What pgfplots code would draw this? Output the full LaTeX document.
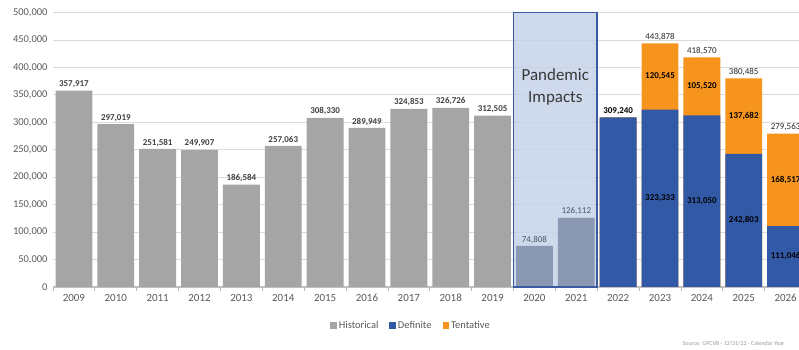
\documentclass[border=0pt]{standalone}
\usepackage{fontspec}
\setmainfont{Carlito}
\usepackage{pgfplots}
\usepackage{pgfplotstable}
\pgfplotsset{compat=1.18}

\definecolor{histgray}{HTML}{A5A5A5}
\definecolor{pandgray}{HTML}{8A99B1}
\definecolor{boxfill}{HTML}{C5D2E9}
\definecolor{boxline}{HTML}{3A5C9E}
\definecolor{defblue}{HTML}{3259A6}
\definecolor{tentorange}{HTML}{F7941D}
\definecolor{txtgray}{HTML}{595959}
\definecolor{lblgray}{HTML}{404040}
\definecolor{pandlbl}{HTML}{4A5568}

\pgfplotstableread{
x v lab
0 357917 357,917
1 297019 297,019
2 251581 251,581
3 249907 249,907
4 186584 186,584
5 257063 257,063
6 308330 308,330
7 289949 289,949
8 324853 324,853
9 326726 326,726
10 312505 312,505
}\hist

\pgfplotstableread{
x v lab
11 74808 74,808
12 126112 126,112
}\pand

\pgfplotstableread{
x def tent dlab tlab tot
13 309240 0 309,240 none 309,240
14 323333 120545 323,333 120,545 443,878
15 313050 105520 313,050 105,520 418,570
16 242803 137682 242,803 137,682 380,485
17 111046 168517 111,046 168,517 279,563
}\fc

\pgfplotsset{
  bars/.style={forget plot, ybar, bar width=0.88, bar shift=0pt, draw=none},
  lbl/.style={forget plot, sharp plot, draw=none,
    mark=*, mark size=0pt, mark options={draw=none, fill=none},
    nodes near coords={\pgfplotspointmeta}, point meta=explicit symbolic},
}

\begin{document}
\begin{tikzpicture}
\begin{axis}[
  name=ax,
  scale only axis,
  width=746bp, height=274.3bp,
  xmin=-0.5, xmax=17.32,
  ymin=0, ymax=500000,
  enlargelimits=false,
  scaled y ticks=false,
  xtick={0,...,17},
  xticklabels={2009,2010,2011,2012,2013,2014,2015,2016,2017,2018,2019,2020,2021,2022,2023,2024,2025,2026},
  minor xtick={-0.5,0.5,...,16.5},
  major tick length=0pt,
  minor tick length=4bp,
  tick align=outside,
  minor x tick style={draw=gray!55, line width=0.8pt},
  ytick={0,50000,100000,150000,200000,250000,300000,350000,400000,450000,500000},
  yticklabels={0,{50,000},{100,000},{150,000},{200,000},{250,000},{300,000},{350,000},{400,000},{450,000},{500,000}},
  yticklabel style={font=\fontsize{10.5}{12}\selectfont, text=txtgray, xshift=-2bp},
  xticklabel style={font=\fontsize{11}{12}\selectfont, text=txtgray, yshift=-4bp},
  axis x line*=bottom,
  axis y line*=left,
  x axis line style={draw=gray!50, line width=1.5pt},
  y axis line style={draw=none},
  ymajorgrids,
  grid style={draw=gray!28, line width=1pt},
  legend image code/.code={\fill[#1] (0bp,-3bp) rectangle (6.5bp,3.5bp);},
  legend style={at={(0.48,-0.142)}, anchor=center, draw=none, fill=none,
    legend columns=3, font=\fontsize{10.5}{12}\selectfont, text=txtgray,
    /tikz/every even column/.append style={column sep=9bp},
    nodes={inner sep=2bp}},
  every node near coord/.append style={font=\bfseries\fontsize{9}{10}\selectfont, text=lblgray, anchor=south, inner sep=2.5bp},
]
\addlegendimage{fill=histgray, draw=none}
\addlegendentry{Historical}
\addlegendimage{fill=defblue, draw=none}
\addlegendentry{Definite}
\addlegendimage{fill=tentorange, draw=none}
\addlegendentry{Tentative}

% pandemic box background (spans 2020-2021)
\addplot[bars, bar width=2, fill=boxfill, fill opacity=0.85]
  coordinates {(11.5,500000)};

% forecast: total (definite + tentative) in orange, definite in blue on top
\addplot[bars, fill=tentorange] table[x=x, y expr=\thisrow{def}+\thisrow{tent}]{\fc};
\addplot[bars, fill=defblue] table[x=x, y=def]{\fc};

% historical bars
\addplot[bars, fill=histgray] table[x=x, y=v]{\hist};
\addplot[bars, fill=pandgray] table[x=x, y=v]{\pand};

% labels
\addplot[lbl] table[x=x, y=v, meta=lab]{\hist};
\addplot[lbl, every node near coord/.append style={font=\fontsize{9}{10}\selectfont, text=pandlbl}]
  table[x=x, y=v, meta=lab]{\pand};
\addplot[lbl, restrict x to domain=12.5:13.5, every node near coord/.append style={text=black}]
  table[x=x, y=def, meta=dlab]{\fc};
\addplot[lbl, restrict x to domain=13.5:17.5, every node near coord/.append style={anchor=center, text=black}]
  table[x=x, y expr=\thisrow{def}/2, meta=dlab]{\fc};
\addplot[lbl, restrict x to domain=13.5:17.5, every node near coord/.append style={anchor=center, text=black}]
  table[x=x, y expr=\thisrow{def}+\thisrow{tent}/2, meta=tlab]{\fc};
\addplot[lbl, restrict x to domain=13.5:17.5, every node near coord/.append style={font=\fontsize{9}{10}\selectfont, text=black!85}]
  table[x=x, y expr=\thisrow{def}+\thisrow{tent}, meta=tot]{\fc};

\coordinate (bl) at (axis cs:10.5,0);
\coordinate (tr) at (axis cs:12.5,500000);
\coordinate (pt) at (axis cs:11.5,365000);
\end{axis}
\draw[boxline, line width=1.5pt] (bl) rectangle (tr);
\node[align=center, font=\fontsize{17}{22}\selectfont, text=black!78] at (pt) {Pandemic\\Impacts};
\node[anchor=east, font=\fontsize{6}{7}\selectfont, text=gray!80] at ([xshift=-11bp,yshift=-57bp]ax.south east) {Source: GPCVB - 12/31/22 - Calendar Year};
\pgfresetboundingbox
\path ([xshift=-53bp,yshift=-62.7bp]ax.south west) rectangle ([yshift=12.7bp]ax.north east);
\end{tikzpicture}
\end{document}
